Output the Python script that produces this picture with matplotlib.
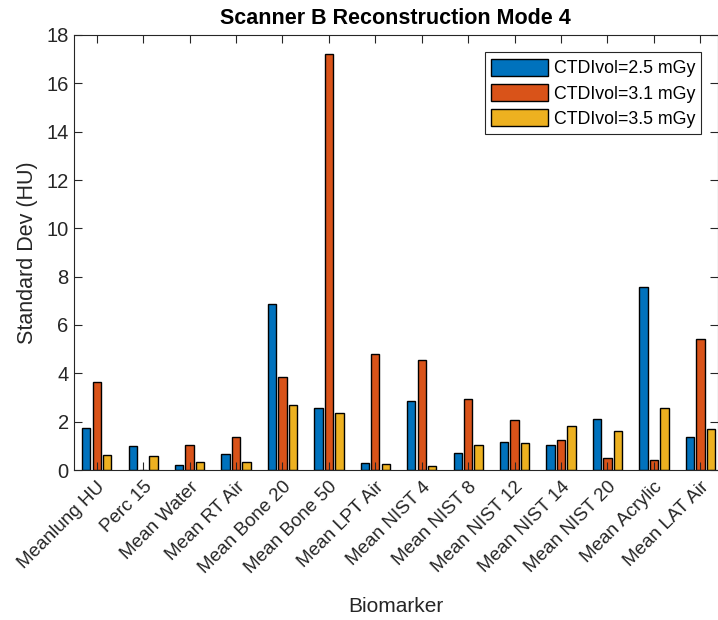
import numpy as np
import matplotlib
matplotlib.use('Agg')
from matplotlib import pyplot as plt

biomarkers = ['Meanlung HU', 'Perc 15', 'Mean Water', 'Mean RT Air', 'Mean Bone 20',
              'Mean Bone 50', 'Mean LPT Air', 'Mean NIST 4', 'Mean NIST 8', 'Mean NIST 12',
              'Mean NIST 14', 'Mean NIST 20', 'Mean Acrylic', 'Mean LAT Air']
sd_25 = [1.73, 0.98, 0.21, 0.65, 6.86, 2.55, 0.28, 2.84, 0.70, 1.16, 1.02, 2.10, 7.58, 1.35]
sd_31 = [3.65, 0.0, 1.03, 1.35, 3.86, 17.2, 4.79, 4.56, 2.92, 2.05, 1.23, 0.51, 0.41, 5.42]
sd_35 = [0.62, 0.57, 0.33, 0.32, 2.70, 2.37, 0.23, 0.18, 1.02, 1.13, 1.82, 1.60, 2.57, 1.68]
series_labels = ['CTDIvol=2.5 mGy', 'CTDIvol=3.1 mGy', 'CTDIvol=3.5 mGy']
colors = ['#0072BD', '#D95319', '#EDB120']

plt.rcParams['font.family'] = ['Liberation Sans', 'DejaVu Sans']

fig = plt.figure(figsize=(7.18, 6.2), dpi=100)
ax = fig.add_axes([73.5 / 718, 1 - 470 / 620, (718 - 73.5) / 718, 435 / 620])

x = np.arange(1, len(biomarkers) + 1)
step = 0.225
width = 0.18
for i, (vals, lab, c) in enumerate(zip([sd_25, sd_31, sd_35], series_labels, colors)):
    ax.bar(x + (i - 1) * step, vals, width, color=c, edgecolor='black',
           linewidth=1.0, label=lab, zorder=2)

ax.set_xlim(0.5, 14.38)
ax.set_ylim(0, 18)
ax.set_yticks(np.arange(0, 19, 2))
ax.set_xticks(x)
ax.set_xticklabels(biomarkers, rotation=45, ha='right', rotation_mode='anchor',
                   fontsize=13.6)
ax.tick_params(axis='y', labelsize=14.5)
ax.tick_params(direction='in', length=6, width=0.8, top=True, right=True,
               colors='#262626', labelcolor='#262626')
ax.tick_params(axis='x', pad=6)
ax.set_axisbelow(False)
for s in ax.spines.values():
    s.set_color('#262626')
    s.set_linewidth(0.8)
    s.set_zorder(3)

ax.set_title('Scanner B Reconstruction Mode 4', fontsize=15.5, fontweight='bold', pad=8)
ax.set_ylabel('Standard Dev (HU)', fontsize=15.5, color='#262626', labelpad=6)
ax.set_xlabel('Biomarker', fontsize=15, color='#262626', labelpad=14)

leg = ax.legend(loc='upper right', bbox_to_anchor=(0.974, 0.96), borderaxespad=0,
                fontsize=12.8, handlelength=3.2, handleheight=1.1, handletextpad=0.3,
                labelspacing=0.38, borderpad=0.35, fancybox=False,
                framealpha=1, edgecolor='#262626')
leg.get_frame().set_linewidth(0.8)

fig.savefig('out.png', dpi=100)
